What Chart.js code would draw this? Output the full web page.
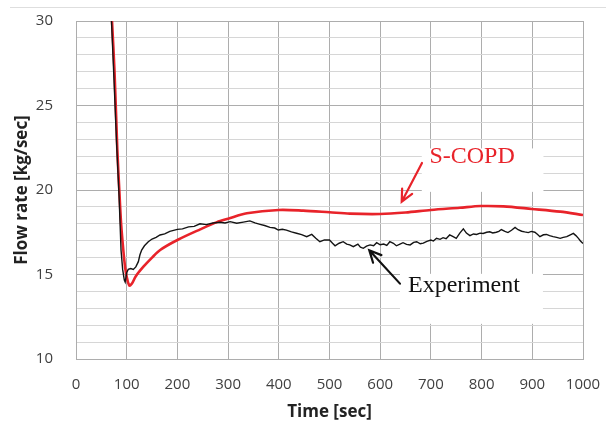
<!DOCTYPE html>
<html lang="en">
<head>
    <meta charset="UTF-8">
    <title>Flow rate</title>
    <style>
        body {
            margin: 0;
            padding: 0;
            background: #ffffff;
        }
        canvas {
            display: block;
        }
    </style>
</head>
<body>
    <canvas id="flowChart" width="606" height="424"></canvas>

    <script src="https://cdn.jsdelivr.net/npm/chart.js"></script>
    <script>
        // S-COPD simulation
        const copdTime = [68, 71, 76, 81.5, 85.4, 89, 93.3, 97, 100, 105, 110, 118, 133, 150, 166, 200, 245, 278, 300, 337, 400, 448, 500, 540, 600, 650, 700, 757, 798, 843, 899, 955, 1000];
        const copdFlow = [31.6, 30, 27, 22.4, 20, 18, 16.45, 15.4, 14.87, 14.35, 14.45, 14.9, 15.46, 16.0, 16.45, 17.04, 17.67, 18.1, 18.3, 18.62, 18.82, 18.78, 18.68, 18.6, 18.58, 18.67, 18.82, 18.95, 19.05, 19.03, 18.88, 18.72, 18.52];

        // Experiment (measured)
        const expTime = [67, 70, 75, 80, 85, 88.8, 92, 95.3, 97, 100, 103, 108, 113, 118, 123, 126, 129.5, 135, 142.6, 150, 158, 165.7, 175, 185, 200, 210, 222, 233, 244.6, 257, 270, 284, 294, 304, 317, 330, 343, 353, 363, 372, 382.6, 392, 399, 407, 415, 425, 435, 445, 455, 465, 473, 481, 490, 500, 506, 511, 519, 527, 534, 540, 547, 556, 561, 566.7, 573, 580, 587, 593, 600, 607, 613, 619, 626, 632, 639, 645, 652, 659, 666, 672, 679, 685, 692, 700, 705, 711, 718, 724, 730, 737, 743, 750, 757, 764, 770, 777, 784, 790, 797, 803, 810, 816, 822, 829, 834, 839, 846, 852, 859, 866, 872, 879, 885, 892, 898, 905, 910, 915, 922, 928, 934, 941, 948, 955, 961, 968, 975, 981, 986, 991, 995, 1000];
        const expFlow = [31.5, 30, 26.5, 22.8, 19.6, 16.45, 15.3, 14.67, 14.55, 15.1, 15.3, 15.35, 15.3, 15.45, 15.76, 16.15, 16.45, 16.7, 16.94, 17.1, 17.2, 17.34, 17.4, 17.55, 17.67, 17.7, 17.82, 17.85, 18.0, 17.95, 18.05, 18.09, 18.05, 18.13, 18.03, 18.1, 18.17, 18.05, 17.97, 17.9, 17.79, 17.75, 17.63, 17.68, 17.63, 17.52, 17.44, 17.36, 17.24, 17.37, 17.15, 16.94, 17.05, 17.04, 16.85, 16.7, 16.85, 16.94, 16.8, 16.75, 16.65, 16.8, 16.62, 16.55, 16.68, 16.75, 16.7, 16.88, 16.76, 16.8, 16.72, 16.94, 16.85, 16.7, 16.8, 16.88, 16.78, 16.75, 16.9, 16.94, 16.82, 16.86, 16.96, 17.04, 16.98, 17.14, 17.08, 17.18, 17.12, 17.34, 17.25, 17.14, 17.45, 17.7, 17.45, 17.3, 17.4, 17.37, 17.45, 17.43, 17.5, 17.53, 17.46, 17.5, 17.55, 17.66, 17.55, 17.48, 17.62, 17.79, 17.65, 17.56, 17.52, 17.48, 17.55, 17.5, 17.38, 17.24, 17.35, 17.37, 17.3, 17.24, 17.2, 17.14, 17.2, 17.24, 17.35, 17.43, 17.3, 17.14, 16.98, 16.84];

        // axes
        const xMin = 0, xMax = 1000, xStep = 100;
        const yMin = 10, yMax = 30, yStep = 1, yLabelEvery = 5;

        // annotation labels, placed in data units
        const labels = [
            { text: 'S-COPD', color: '#e8232a', box: [682, 922, 22.46, 19.89], textAt: [697, 21.58], arrow: [682.4, 21.6, 642.4, 19.31] },
            { text: 'Experiment', color: '#111111', box: [639, 921, 15.04, 12.08], textAt: [654.8, 13.96], arrow: [639, 14.46, 578.5, 16.43] }
        ];

        const toPoints = (xs, ys) => xs.map((x, i) => ({ x: x, y: ys[i] }));

        const annotate = {
            id: 'annotate',
            afterDraw(chart) {
                const c = chart.ctx;
                const sx = chart.scales.x, sy = chart.scales.y;
                // thin line at the top of the figure
                c.save();
                c.strokeStyle = '#dedede';
                c.lineWidth = 1;
                c.beginPath();
                c.moveTo(10, 7.5);
                c.lineTo(606, 7.5);
                c.stroke();

                labels.forEach(l => {
                    const x0 = sx.getPixelForValue(l.box[0]), x1 = sx.getPixelForValue(l.box[1]);
                    const y0 = sy.getPixelForValue(l.box[2]), y1 = sy.getPixelForValue(l.box[3]);
                    c.fillStyle = '#ffffff';
                    c.fillRect(x0, y0, x1 - x0, y1 - y0);

                    c.fillStyle = l.color;
                    c.font = '24px "Liberation Serif", "Times New Roman", serif';
                    c.textBaseline = 'alphabetic';
                    c.textAlign = 'left';
                    c.fillText(l.text, sx.getPixelForValue(l.textAt[0]), sy.getPixelForValue(l.textAt[1]));

                    // arrow
                    const ax = sx.getPixelForValue(l.arrow[0]), ay = sy.getPixelForValue(l.arrow[1]);
                    const bx = sx.getPixelForValue(l.arrow[2]), by = sy.getPixelForValue(l.arrow[3]);
                    const ang = Math.atan2(by - ay, bx - ax);
                    const head = 13;
                    c.strokeStyle = l.color;
                    c.lineWidth = 2.2;
                    c.lineCap = 'round';
                    c.beginPath();
                    c.moveTo(ax, ay);
                    c.lineTo(bx, by);
                    c.moveTo(bx - head * Math.cos(ang - 0.45), by - head * Math.sin(ang - 0.45));
                    c.lineTo(bx, by);
                    c.lineTo(bx - head * Math.cos(ang + 0.45), by - head * Math.sin(ang + 0.45));
                    c.stroke();
                });
                c.restore();
            }
        };

        Chart.defaults.font.family = "'Open Sans', sans-serif";
        Chart.defaults.color = '#404040';

        const ctx = document.getElementById('flowChart').getContext('2d');
        new Chart(ctx, {
            type: 'line',
            data: {
                datasets: [
                    {
                        label: 'Experiment',
                        data: toPoints(expTime, expFlow),
                        borderColor: '#141414',
                        borderWidth: 1.4,
                        pointRadius: 0,
                        tension: 0,
                        clip: 0
                    },
                    {
                        label: 'S-COPD',
                        data: toPoints(copdTime, copdFlow),
                        borderColor: '#e8232a',
                        borderWidth: 2.6,
                        pointRadius: 0,
                        tension: 0.3,
                        clip: 0
                    }
                ]
            },
            options: {
                responsive: false,
                animation: false,
                devicePixelRatio: 1,
                layout: { padding: { top: 21, right: 23, left: 0, bottom: 0 } },
                plugins: {
                    legend: { display: false },
                    tooltip: { enabled: false }
                },
                scales: {
                    x: {
                        type: 'linear',
                        min: xMin,
                        max: xMax,
                        afterFit: s => { s.height = 65; s.paddingLeft = 0; s.paddingRight = 0; },
                        ticks: {
                            stepSize: xStep,
                            autoSkip: false,
                            maxRotation: 0,
                            padding: 17,
                            font: { size: 15 },
                            callback: v => String(v)
                        },
                        grid: { color: '#adadad', drawTicks: false },
                        border: { color: '#adadad' },
                        title: {
                            display: true,
                            text: 'Time [sec]',
                            color: '#222222',
                            font: { size: 17, weight: 'bold' },
                            padding: { top: 0, bottom: 2 }
                        }
                    },
                    y: {
                        min: yMin,
                        max: yMax,
                        afterFit: s => { s.width = 76; s.paddingTop = 0; s.paddingBottom = 0; },
                        ticks: {
                            stepSize: yStep,
                            autoSkip: false,
                            padding: 23,
                            font: { size: 15 },
                            callback: v => (v % yLabelEvery === 0 ? v : '')
                        },
                        grid: {
                            drawTicks: false,
                            color: c => (c.tick && c.tick.value % yLabelEvery === 0 ? '#adadad' : '#d6d6d6')
                        },
                        border: { color: '#adadad' },
                        title: {
                            display: true,
                            text: 'Flow rate [kg/sec]',
                            color: '#222222',
                            font: { size: 17, weight: 'bold' },
                            padding: { top: 12, bottom: 0 }
                        }
                    }
                }
            },
            plugins: [annotate]
        });
    </script>
</body>
</html>
